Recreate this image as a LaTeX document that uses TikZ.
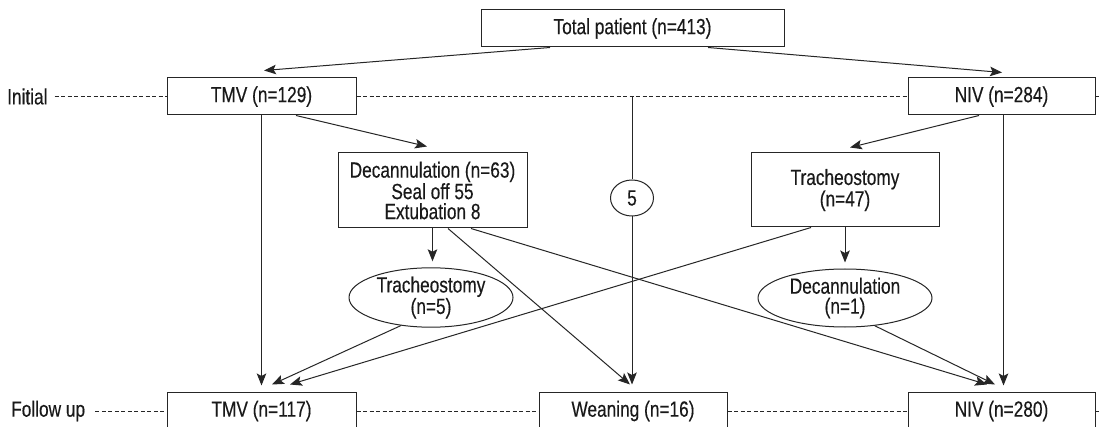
\documentclass[tikz,border=0pt]{standalone}
\usepackage{fontspec}
\setmainfont{Liberation Sans}[FakeStretch=0.785,FakeBold=0.3]
\usetikzlibrary{arrows.meta,shapes.geometric,calc}
\begin{document}
\begin{tikzpicture}[x=1pt,y=-1pt,
  font=\fontsize{22}{20}\selectfont,
  line/.style={draw=black!85,line width=1pt},
  arr/.style={line,-{Stealth[length=12pt,width=9.5pt,inset=2.5pt]}},
  box/.style={draw=black!85,line width=1pt,fill=white,inner sep=0pt,align=center,text=black!90},
  oval/.style={ellipse,draw=black!85,line width=1pt,inner sep=0pt,align=center,text=black!90,fill=white},
  dsh/.style={draw=black!85,line width=0.8pt,dash pattern=on 4pt off 2.5pt},
  lbl/.style={anchor=west,inner sep=0pt,text=black!90}]
\path[use as bounding box] (0,0) rectangle (1099,427);
\clip (0,0) rectangle (1099,427);
\fill[white] (0,0) rectangle (1099,427);

% nodes
\node[box,minimum width=303pt,minimum height=37pt] (total) at (632.5,28.5) {Total patient (n=413)};
\node[box,minimum width=189pt,minimum height=37pt] (tmvA) at (261.5,96.5) {TMV (n=129)};
\node[box,minimum width=187pt,minimum height=37pt] (nivA) at (1001.5,96.5) {NIV (n=284)};
\node[box,minimum width=189pt,minimum height=75pt] (dec) at (432.5,190.5) {Decannulation (n=63)\\Seal off 55\\Extubation 8};
\node[box,minimum width=188pt,minimum height=74pt] (trach) at (845,190) {Tracheostomy\\(n=47)};
\node[oval,minimum width=43pt,minimum height=36pt] (five) at (632,198) {5};
\node[oval,minimum width=164pt,minimum height=57pt] (tre) at (431,297.5) {Tracheostomy\\(n=5)};
\node[oval,minimum width=174pt,minimum height=58pt] (dece) at (845,298) {Decannulation\\(n=1)};
\node[box,minimum width=189pt,minimum height=38pt] (tmvB) at (261.5,411) {TMV (n=117)};
\node[box,minimum width=188pt,minimum height=38pt] (wean) at (633,411) {Weaning (n=16)};
\node[box,minimum width=187pt,minimum height=38pt] (nivB) at (1001.5,411) {NIV (n=280)};
\node[lbl] (ini) at (7,96.5) {Initial};
\node[lbl] (fol) at (11,411) {Follow up};
\coordinate (eA) at (1110,96.5);
\coordinate (eB) at (1110,411);
\coordinate (c5) at (632,96.5);

% dashed time lines
\draw[dsh] ([xshift=7pt]ini.east) -- (tmvA.west);
\draw[dsh] (tmvA.east) -- (nivA.west);
\draw[dsh] (nivA.east) -- (eA);
\draw[dsh] ([xshift=10pt]fol.east) -- (tmvB.west);
\draw[dsh] (tmvB.east) -- (wean.west);
\draw[dsh] (wean.east) -- (nivB.west);
\draw[dsh] (nivB.east) -- (eB);

% connectors
\draw[arr] ([xshift=-82.5pt]total.south) -- ([xshift=2.5pt,yshift=7pt]tmvA.north);
\draw[arr] ([xshift=75.5pt]total.south) -- ([xshift=0.5pt,yshift=5pt]nivA.north);
\draw[arr] ([xshift=34.5pt]tmvA.south) -- ([xshift=-5.5pt,yshift=6pt]dec.north);
\draw[arr] ([xshift=-22.5pt]nivA.south) -- ([xshift=5pt,yshift=5pt]trach.north);
\draw[arr] (tmvA.south) -- ([yshift=6pt]tmvB.north);
\draw[arr] ([xshift=2pt]nivA.south) -- ([xshift=2pt,yshift=6pt]nivB.north);
\draw[line] (c5) -- (five.north);
\draw[arr] (five.south) -- ([xshift=-1pt,yshift=7pt]wean.north);
\draw[arr] (dec.south) -- ([yshift=6pt]dec.south |- tre.north);
\draw[arr] (trach.south) -- ([yshift=6pt]trach.south |- dece.north);
\draw[arr] ([xshift=15.5pt]dec.south) -- ([xshift=-3pt,yshift=7pt]wean.north);
\draw[arr] ([xshift=38.5pt]dec.south) -- ([xshift=-14.5pt,yshift=7pt]nivB.north);
\draw[arr] (dece.-43) -- ([xshift=-6.5pt,yshift=7pt]nivB.north);
\draw[arr] (tre.-137) -- ([xshift=10.5pt,yshift=7pt]tmvB.north);
\draw[arr] ([xshift=-34pt]trach.south) -- ([xshift=28.5pt,yshift=7pt]tmvB.north);
\end{tikzpicture}
\end{document}
